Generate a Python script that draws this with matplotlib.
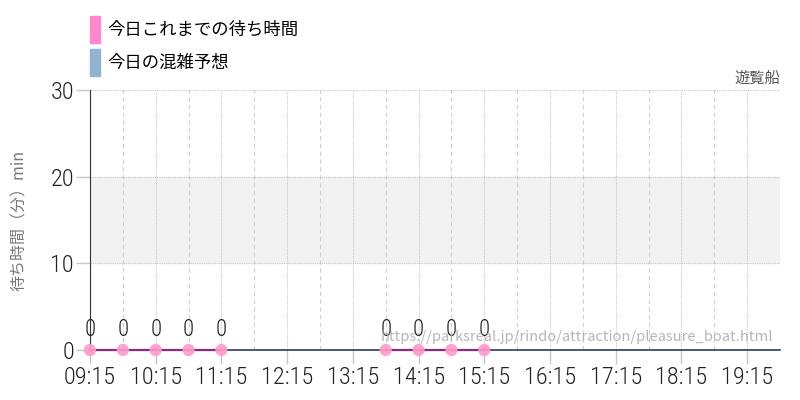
import matplotlib.pyplot as plt
import numpy as np
from matplotlib.patches import Patch
from matplotlib import font_manager
from matplotlib.font_manager import FontProperties

# wait times recorded so far today
times = ["09:15", "09:45", "10:15", "10:45", "11:15",
         "13:45", "14:15", "14:45", "15:15"]
waits = [0, 0, 0, 0, 0, 0, 0, 0, 0]

hour_labels = ["09:15", "10:15", "11:15", "12:15", "13:15", "14:15",
               "15:15", "16:15", "17:15", "18:15", "19:15"]
x_start, x_end = "09:15", "19:45"
y_ticks = [0, 10, 20, 30]
band = (10, 20)

title = "遊覧船"
ylabel = "待ち時間（分）min"
legend_labels = ["今日これまでの待ち時間", "今日の混雑予想"]
url = "https://parksreal.jp/rindo/attraction/pleasure_boat.html"

CJK = ["Noto Sans CJK JP", "DejaVu Sans"]


def narrow_font():
    # prefer a condensed face for the numbers
    wanted = ["RobotoCondensed-Light", "RobotoCondensed-Regular",
              "LiberationSansNarrow-Regular", "DejaVuSansCondensed.ttf"]
    files = [f.fname for f in font_manager.fontManager.ttflist]
    for w in wanted:
        for f in files:
            if w in f:
                return FontProperties(fname=f), True
    return FontProperties(family="Roboto", weight="light"), False


NUM_FP, is_narrow = narrow_font()
NUM_SIZE = 17.5 if is_narrow else 14


def to_min(s):
    h, m = s.split(":")
    return int(h) * 60 + int(m)


x = np.array([to_min(t) for t in times], dtype=float)
y = np.array(waits, dtype=float)

# break the line where a slot is missing
lx, ly = [x[0]], [y[0]]
for i in range(1, len(x)):
    if x[i] - x[i - 1] > 30:
        lx.append(np.nan)
        ly.append(np.nan)
    lx.append(x[i])
    ly.append(y[i])

fig = plt.figure(figsize=(8, 4), dpi=100)
ax = fig.add_axes([0.1125, 0.125, 0.8625, 0.65])

x0, x1 = to_min(x_start), to_min(x_end)
ax.set_xlim(x0, x1)
ax.set_ylim(0, 30)

ax.axhspan(band[0], band[1], color="#f2f2f2", zorder=0)

hours = [to_min(h) for h in hour_labels]
for h in hours:
    ax.axvline(h, color="#c8c8c8", lw=0.8, ls=(0, (1, 1)), zorder=1)
    ax.axvline(h + 30, color="#d0d0d0", lw=0.8, ls=(0, (4, 3)), zorder=1)
for v in y_ticks[1:]:
    ax.axhline(v, color="#c8c8c8", lw=0.8, ls=(0, (1, 1)), zorder=1)

ax.plot(lx, ly, color="#8a2d78", lw=1.6, zorder=3, clip_on=False)
ax.scatter(x, y, s=78, color="#ff99cc", alpha=0.9, zorder=4,
           edgecolors="none", clip_on=False)
for xi, yi in zip(x, y):
    ax.text(xi, yi + 2.35, f"{int(yi)}", ha="center", va="center",
            fontproperties=NUM_FP, fontsize=NUM_SIZE - 1, color="#222222",
            zorder=5)

ax.set_xticks(hours)
ax.set_xticklabels(hour_labels, fontproperties=NUM_FP, fontsize=NUM_SIZE,
                   color="#222222")
ax.set_yticks(y_ticks)
ax.set_yticklabels([str(v) for v in y_ticks], fontproperties=NUM_FP,
                   fontsize=NUM_SIZE, color="#222222")
ax.tick_params(axis="both", length=10, width=1, color="#c8c8c8", pad=1.5)

for s in ["top", "right"]:
    ax.spines[s].set_visible(False)
ax.spines["left"].set_color("#333333")
ax.spines["bottom"].set_color("#2c3e50")
ax.spines["bottom"].set_linewidth(1.2)

ax.set_ylabel(ylabel, family=CJK, fontsize=11.5, color="#777777")
ax.yaxis.set_label_coords(-0.09, 0.5)

fig.text(0.975, 0.805, title, ha="right", va="center", family=CJK,
         fontsize=11, color="#555555")
ax.text(0.99, 0.05, url, transform=ax.transAxes, ha="right", va="center",
        family=CJK, fontsize=10.6, color="#aaaaaa", alpha=0.85, zorder=6)

handles = [Patch(color="#ff88cc"), Patch(color="#8fb3d0")]
fig.legend(handles, legend_labels, loc="upper left",
           bbox_to_anchor=(0.113, 0.96), frameon=False,
           prop={"family": CJK, "size": 12.5}, handlelength=0.55,
           handleheight=2.0, handletextpad=0.45, labelspacing=0.35,
           borderaxespad=0, borderpad=0)

fig.savefig("out.png", dpi=100)
